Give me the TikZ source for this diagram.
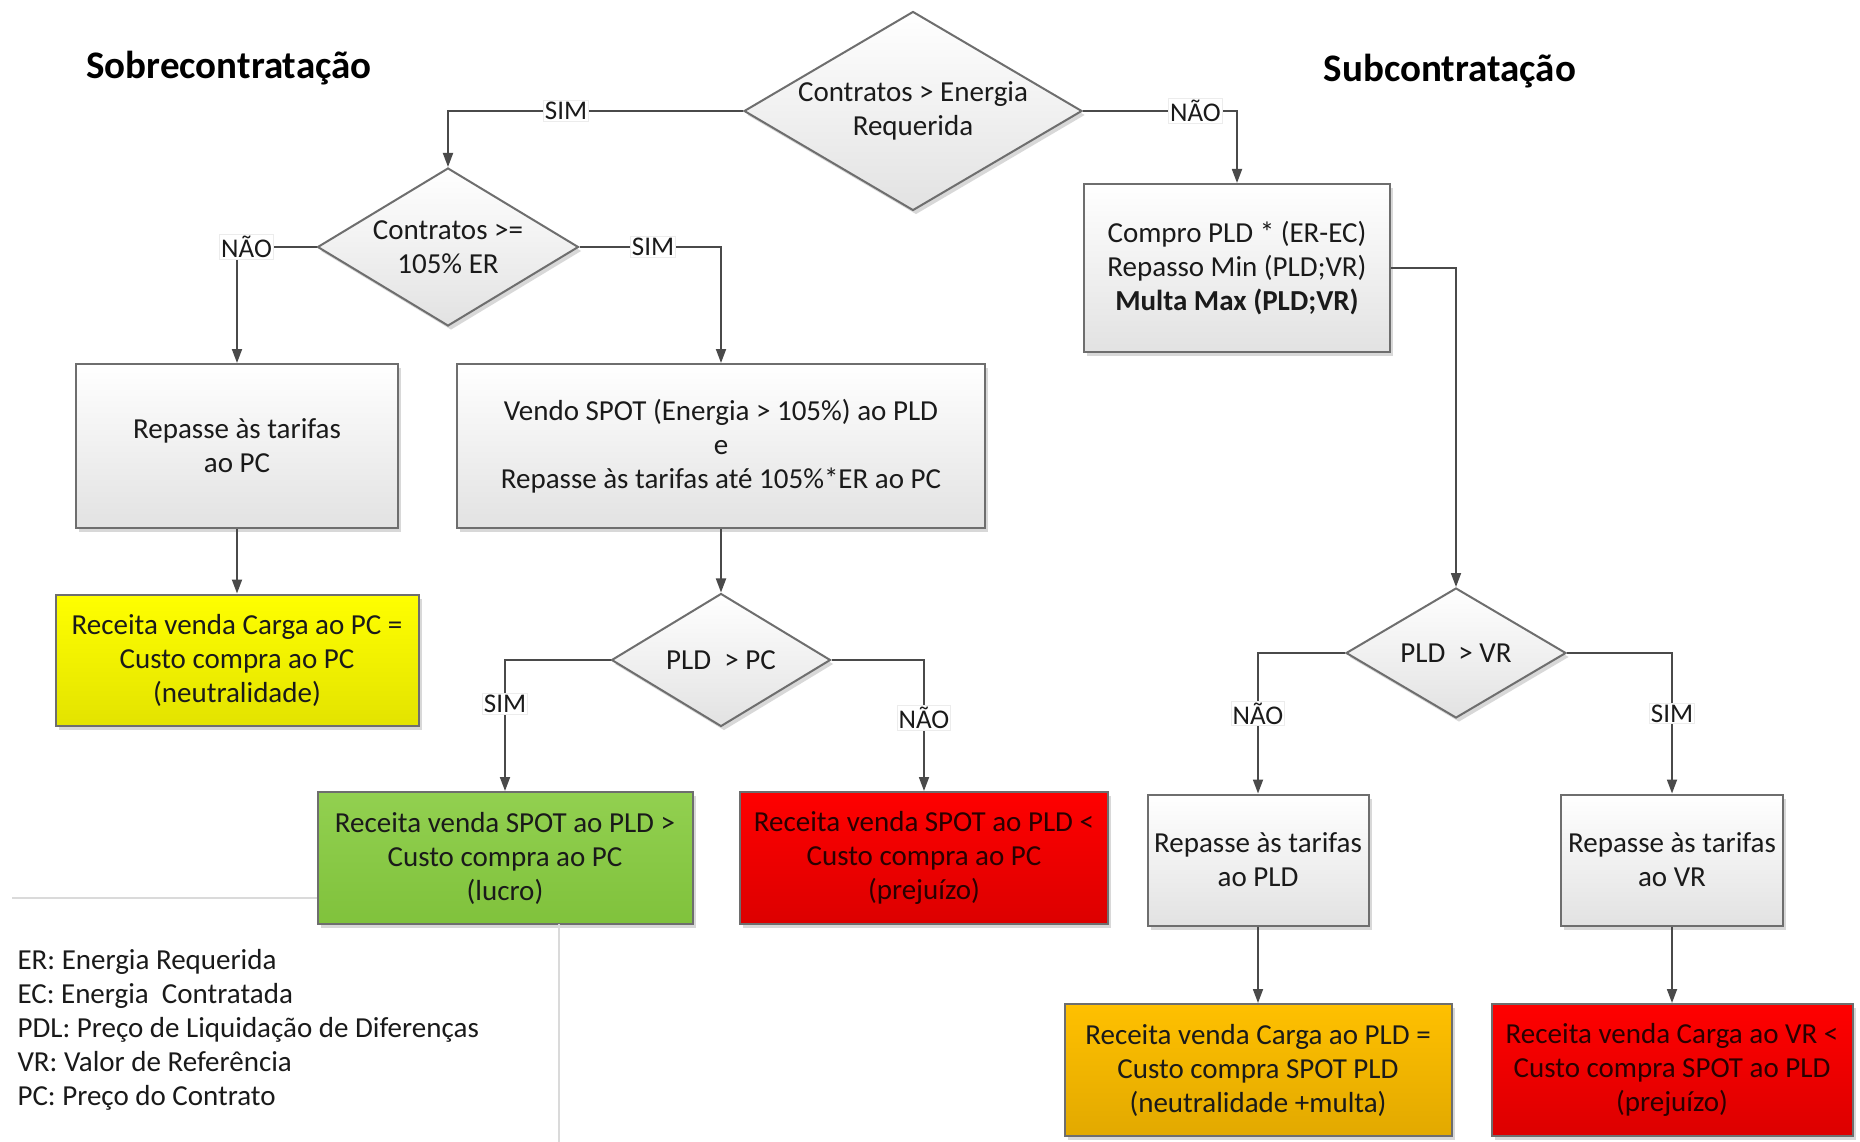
\documentclass[tikz,border=0pt]{standalone}
\usepackage{fontspec}
\setmainfont{Carlito}
\usetikzlibrary{arrows.meta,shapes.geometric,shadows}
\definecolor{boxline}{HTML}{6E6E6E}
\definecolor{flowline}{HTML}{4A4A4A}
\definecolor{boxgray}{HTML}{E2E2E2}
\definecolor{textmain}{HTML}{1A1A1A}
\definecolor{rulegray}{HTML}{DADADA}
\definecolor{redtext}{HTML}{2A0000}
\definecolor{yeltop}{HTML}{FFFF00}
\definecolor{yelbot}{HTML}{E3E300}
\definecolor{grntop}{HTML}{92D050}
\definecolor{grnbot}{HTML}{80C23C}
\definecolor{redtop}{HTML}{FF0000}
\definecolor{redbot}{HTML}{DC0000}
\definecolor{orgtop}{HTML}{FFC000}
\definecolor{orgbot}{HTML}{E2A900}

\begin{document}
\begin{tikzpicture}[
  x=1pt,y=-1pt,
  font=\fontsize{29}{34}\selectfont,text=textmain,
  boxshadow/.style={drop shadow={opacity=0.3,shadow xshift=3pt,shadow yshift=-4pt}},
  process/.style={rectangle,draw=boxline,line width=2pt,top color=white,bottom color=boxgray,align=center,inner sep=0pt,boxshadow},
  decision/.style={diamond,draw=boxline,line width=2pt,top color=white,bottom color=boxgray,inner sep=0pt,boxshadow},
  result/.style={rectangle,draw=boxline,line width=2pt,align=center,inner sep=0pt,boxshadow},
  flow/.style={flowline,line width=1.8pt,-{Triangle[length=14pt,width=10pt]}},
  tag/.style={fill=white,draw=gray!15,line width=0.8pt,inner sep=1.5pt,text=textmain,font=\fontsize{27}{30}\selectfont},
  title/.style={font=\bfseries\fontsize{39}{44}\selectfont,text=black},
  rule/.style={rulegray,line width=1.5pt}
]
  \fill[white] (0,0) rectangle (1860,1142);
  \useasboundingbox (0,0) rectangle (1860,1142);

  % Headings of the two branches.
  \node[title] (sobre) at (229,68) {Sobrecontratação};
  \node[title] (sub) at (1450,71) {Subcontratação};

  % Decisions.
  \node[decision,minimum width=338pt,minimum height=199pt] (d1) at (913,111) {};
  \node[align=center] (d1t) at (d1) {Contratos > Energia\\Requerida};
  \node[decision,minimum width=261pt,minimum height=158pt] (d2) at (448,247) {};
  \node[align=center] (d2t) at (d2) {Contratos >=\\105\% ER};
  \node[decision,minimum width=219pt,minimum height=133pt] (d3) at (721,660) {};
  \node (d3t) at (d3) {PLD\ \ > PC};
  \node[decision,minimum width=220pt,minimum height=130pt] (d4) at (1456,653) {};
  \node (d4t) at (d4) {PLD\ \ > VR};

  % Actions.
  \node[process,minimum width=322pt,minimum height=164pt] (b1) at (237,446) {Repasse às tarifas\\ao PC};
  \node[process,minimum width=528pt,minimum height=164pt] (b2) at (721,446)
    {Vendo SPOT (Energia > 105\%) ao PLD\\e\\Repasse às tarifas até 105\%*ER ao PC};
  \node[process,minimum width=306pt,minimum height=168pt] (b3) at (1237,268)
    {Compro PLD * (ER-EC)\\Repasso Min (PLD;VR)\\\textbf{Multa Max (PLD;VR)}};
  \node[process,minimum width=221pt,minimum height=131pt] (b4) at (1258,860) {Repasse às tarifas\\ao PLD};
  \node[process,minimum width=222pt,minimum height=131pt] (b5) at (1672,860) {Repasse às tarifas\\ao VR};

  % Outcomes.
  \node[result,top color=yeltop,bottom color=yelbot,minimum width=363pt,minimum height=131pt] (y1) at (237,660)
    {Receita venda Carga ao PC =\\Custo compra ao PC\\(neutralidade)};
  \node[result,top color=grntop,bottom color=grnbot,minimum width=375pt,minimum height=132pt] (g1) at (505,858)
    {Receita venda SPOT ao PLD >\\Custo compra ao PC\\(lucro)};
  \node[result,top color=redtop,bottom color=redbot,text=redtext,minimum width=368pt,minimum height=132pt] (r1) at (924,858)
    {Receita venda SPOT ao PLD <\\Custo compra ao PC\\(prejuízo)};
  \node[result,top color=orgtop,bottom color=orgbot,minimum width=387pt,minimum height=132pt] (o1) at (1258,1070)
    {Receita venda Carga ao PLD =\\Custo compra SPOT PLD\\(neutralidade +multa)};
  \node[result,top color=redtop,bottom color=redbot,text=redtext,minimum width=361pt,minimum height=132pt] (r2) at (1672,1070)
    {Receita venda Carga ao VR <\\Custo compra SPOT ao PLD\\(prejuízo)};

  % Connectors.
  \draw[flow] (d1.west) -| node[tag,pos=0.3] (t1) {SIM} (d2.north);
  \draw[flow] (d1.east) -| node[tag,pos=0.365] (t2) {NÃO} (b3.north);
  \draw[flow] (d2.west) -| node[tag,pos=0.44] (t3) {NÃO} (b1.north);
  \draw[flow] (d2.east) -| node[tag,pos=0.26] (t4) {SIM} (b2.north);
  \draw[flow] (b1) -- (y1);
  \draw[flow] (b2) -- (d3);
  \draw[flow] (d3.west) -| node[tag,pos=0.667] (t5) {SIM} (g1.north);
  \draw[flow] (d3.east) -| node[tag,pos=0.72] (t6) {NÃO} (r1.north);
  \draw[flow] (b3.east) -| (d4.north);
  \draw[flow] (d4.west) -| node[tag,pos=0.715] (t7) {NÃO} (b4.north);
  \draw[flow] (d4.east) -| node[tag,pos=0.715] (t8) {SIM} (b5.north);
  \draw[flow] (b4) -- (o1);
  \draw[flow] (b5) -- (r2);

  % Legend and its separators.
  \draw[rule] (12,898) -- (g1.west |- 0,898);
  \draw[rule] (559,924) -- (559,1142);
  \node[anchor=west,align=left] (legend) at (14,1030)
    {ER: Energia Requerida\\EC: Energia\ \ Contratada\\PDL: Preço de Liquidação de Diferenças\\VR: Valor de Referência\\PC: Preço do Contrato};
\end{tikzpicture}
\end{document}
